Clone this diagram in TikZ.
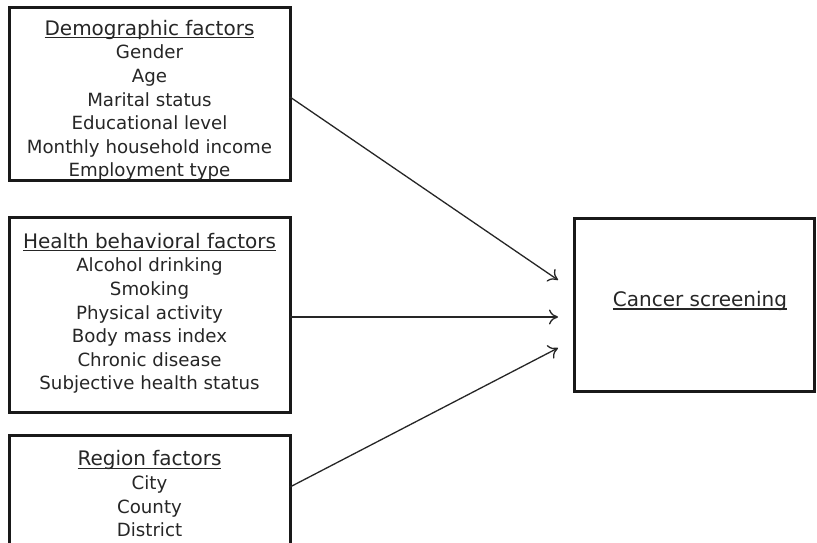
\documentclass[tikz,border=0pt]{standalone}
\usepackage{fontspec}
\setmainfont{DejaVu Sans}
\usetikzlibrary{arrows.meta}
\newcommand{\uln}[1]{\setbox0\hbox{\fontsize{20}{23.6}\selectfont #1}\rlap{\rule[-3pt]{\wd0}{1.2pt}}\box0}
\begin{document}
\begin{tikzpicture}[x=1pt,y=1pt,
  factorbox/.style={draw=black!90,line width=3pt,rectangle,inner sep=0pt},
  boxtext/.style={align=center,anchor=base,inner sep=0pt,font=\fontsize{18.2}{23.6}\selectfont,text=black!85},
  link/.style={draw=black!85,line width=1.3pt,-{To[length=9pt,width=15pt,line width=1.3pt]}}]
\clip (0,0) rectangle (817,543);
\fill[white] (0,0) rectangle (817,543);
% boxes
\node[factorbox,minimum width=281pt,minimum height=173pt] (demo) at (149.5,448.5) {};
\node[factorbox,minimum width=281pt,minimum height=195pt] (health) at (149.5,227.5) {};
\node[factorbox,minimum width=281pt,minimum height=124pt] (region) at (149.5,45) {};
\node[factorbox,minimum width=240pt,minimum height=173pt] (cs) at (694,237.5) {};
% texts
\node[boxtext] (demotext) at (149.5,366) {\uln{Demographic factors}\\Gender\\Age\\Marital status\\Educational level\\Monthly household income\\Employment type};
\node[boxtext] (healthtext) at (149.5,153) {\uln{Health behavioral factors}\\Alcohol drinking\\Smoking\\Physical activity\\Body mass index\\Chronic disease\\Subjective health status};
\node[boxtext] (regiontext) at (149.5,6.3) {\uln{Region factors}\\City\\County\\District};
\node[boxtext] (cstext) at (700,236.3) {\uln{Cancer screening}};
% connector ends
\coordinate (s1) at (290,446);
\coordinate (s2) at (290,226);
\coordinate (s3) at (290,56);
\coordinate (e1) at (558,263);
\coordinate (e2) at (558,226);
\coordinate (e3) at (558,195);
\draw[link] (s1) -- (e1);
\draw[link] (s2) -- (e2);
\draw[link] (s3) -- (e3);
\end{tikzpicture}
\end{document}
